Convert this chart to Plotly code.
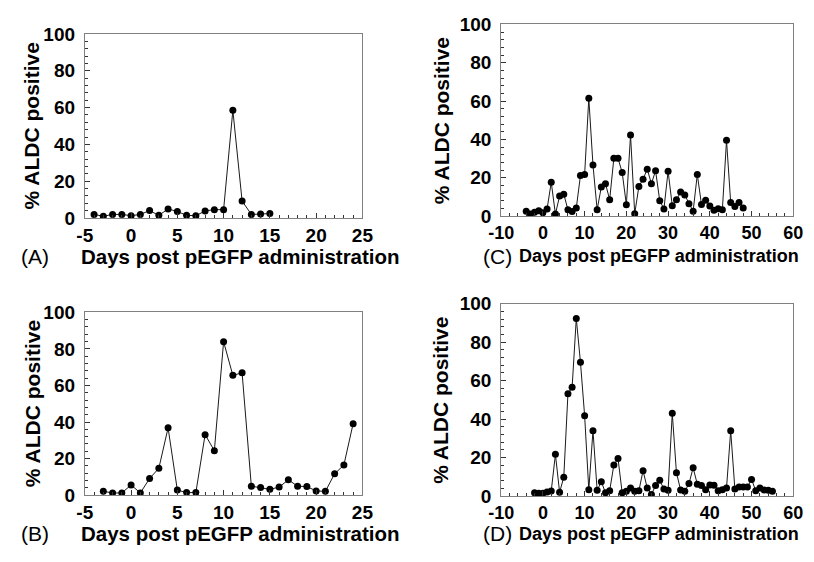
import plotly.graph_objects as go

# ---------------- data ----------------
days_a = list(range(-4, 16))
pct_a = [1.9, 0.9, 1.9, 1.9, 1.2, 1.9, 4.0, 1.4, 4.9, 3.5, 1.4, 1.2, 3.8, 4.5, 4.5,
         58.5, 9.2, 1.9, 2.1, 2.4]

days_b = list(range(-3, 25))
pct_b = [2.1, 1.2, 1.2, 5.6, 1.2, 9.1, 14.7, 36.8, 2.8, 1.4, 1.4, 33.1, 24.3, 83.9,
         65.5, 66.9, 4.9, 4.2, 3.2, 4.4, 8.4, 4.9, 4.7, 2.3, 2.1, 11.7, 16.5, 39.1]

days_c = list(range(-4, 49))
pct_c = [2.5, 1.0, 2.0, 2.7, 1.7, 3.7, 17.6, 1.0, 10.4, 11.4, 3.3, 2.3, 4.2, 21.1,
         21.7, 61.5, 26.6, 3.3, 15.2, 16.9, 8.5, 30.1, 30.1, 22.7, 5.9, 42.3, 1.2,
         15.4, 19.2, 24.4, 16.9, 23.6, 8.0, 3.7, 23.4, 5.4, 8.5, 12.5, 10.9, 6.4,
         2.5, 21.7, 6.0, 8.2, 5.2, 3.0, 3.8, 3.2, 39.5, 7.0, 5.0, 7.0, 4.2]

days_d = list(range(-2, 56))
pct_d = [1.7, 1.5, 1.5, 2.2, 2.7, 21.7, 2.0, 9.8, 53.2, 56.5, 92.3, 69.5, 41.8, 3.3,
         34.0, 3.0, 7.5, 1.7, 2.8, 16.2, 19.5, 1.7, 2.5, 4.2, 2.5, 2.8, 13.2, 4.2,
         0.8, 5.5, 8.2, 3.7, 3.0, 43.0, 12.2, 3.2, 2.5, 6.5, 14.7, 6.2, 5.5, 3.3,
         5.8, 5.7, 2.8, 3.3, 4.2, 34.0, 3.7, 4.7, 4.7, 4.7, 8.7, 2.8, 4.2, 3.2,
         3.0, 2.5]

# tick labels (hyphen-minus as in the original)
xticks_short = [-5, 0, 5, 10, 15, 20, 25]
xticklabels_short = ["-5", "0", "5", "10", "15", "20", "25"]
xticks_long = [-10, 0, 10, 20, 30, 40, 50, 60]
xticklabels_long = ["-10", "0", "10", "20", "30", "40", "50", "60"]
yticks = [0, 20, 40, 60, 80, 100]
yticklabels = ["0", "20", "40", "60", "80", "100"]

panel_labels = ["(A)", "(B)", "(C)", "(D)"]
x_title = "Days post pEGFP administration"
y_title = "% ALDC positive"

# ---------------- layout geometry (pixels) ----------------
W, H = 814, 562
frames = {
    "A": (74, 360, 25, 216),
    "B": (74, 360, 314, 504),
    "C": (503, 804, 15, 214),
    "D": (503, 804, 305, 505),
}
xranges = {"A": [-5, 25], "B": [-5, 25], "C": [-10, 60], "D": [-10, 60]}
xminor = {"A": 1, "B": 1, "C": 2, "D": 2}
xtickset = {"A": (xticks_short, xticklabels_short), "B": (xticks_short, xticklabels_short),
            "C": (xticks_long, xticklabels_long), "D": (xticks_long, xticklabels_long)}

def px(x):
    return x / W

def py(y):
    return 1 - y / H

FONT = "Liberation Sans, Arial, Helvetica, sans-serif"

fig = go.Figure()
series = {"A": (days_a, pct_a), "B": (days_b, pct_b),
          "C": (days_c, pct_c), "D": (days_d, pct_d)}

layout = dict(
    width=W, height=H,
    margin=dict(l=0, r=0, t=0, b=0),
    paper_bgcolor="white", plot_bgcolor="white",
    showlegend=False,
    font=dict(family=FONT, color="black"),
)

annotations = []
for i, key in enumerate(["A", "B", "C", "D"]):
    n = "" if i == 0 else str(i + 1)
    xa, ya = "xaxis" + n, "yaxis" + n
    l, r, t, b = frames[key]
    xs, ys = series[key]
    tv, tt = xtickset[key]
    left_col = key in ("A", "B")
    fig.add_trace(go.Scatter(
        x=xs, y=ys, mode="lines+markers",
        line=dict(color="#1a1a1a", width=1),
        marker=dict(color="black", size=7),
        xaxis="x" + n, yaxis="y" + n,
    ))
    layout[xa] = dict(
        domain=[px(l), px(r)], anchor="y" + n, range=xranges[key],
        showgrid=False, zeroline=False, showline=True, mirror=True,
        linecolor="#808080", linewidth=1,
        ticks="inside", ticklen=5, tickcolor="#333",
        tickmode="array", tickvals=tv, ticktext=tt,
        ticklabelstandoff=0,
        minor=dict(ticks="inside", ticklen=3, dtick=xminor[key], tick0=0, tickcolor="#333"),
        tickfont=dict(family=FONT, size=19 if left_col else 18, weight="bold", color="black"),
    )
    layout[ya] = dict(
        domain=[py(b), py(t)], anchor="x" + n, range=[0, 100],
        showgrid=False, zeroline=False, showline=True, mirror=True,
        linecolor="#808080", linewidth=1,
        ticks="inside", ticklen=5, tickcolor="#333",
        tickmode="array", tickvals=yticks, ticktext=yticklabels,
        ticklabelstandoff=5,
        minor=dict(ticks="inside", ticklen=3, dtick=4, tick0=0, tickcolor="#333"),
        tickfont=dict(family=FONT, size=19, weight="bold", color="black"),
    )
    # y title
    yt_x = 20 if left_col else 441
    annotations.append(dict(
        x=px(yt_x), y=py((t + b) / 2), xref="paper", yref="paper",
        text=y_title, textangle=-90, showarrow=False,
        xanchor="center", yanchor="middle",
        font=dict(family=FONT, size=21, weight="bold", color="black"),
    ))
    # x title row
    row_y = 256 if key in ("A", "C") else 544
    lab_x = 6 if left_col else 482
    annotations.append(dict(
        x=px(lab_x), y=py(row_y), xref="paper", yref="paper",
        text=panel_labels[i], showarrow=False,
        xanchor="left", yanchor="middle",
        font=dict(family=FONT, size=21, color="black"),
    ))
    if left_col:
        annotations.append(dict(
            x=px(68), y=py(row_y), xref="paper", yref="paper",
            text=x_title, showarrow=False,
            xanchor="left", yanchor="middle",
            font=dict(family=FONT, size=20.5, weight="bold", color="black"),
        ))
    else:
        annotations.append(dict(
            x=px(812), y=py(row_y), xref="paper", yref="paper",
            text=x_title, showarrow=False,
            xanchor="right", yanchor="middle",
            font=dict(family=FONT, size=18, weight="bold", color="black"),
        ))

layout["annotations"] = annotations
fig.update_layout(**layout)
fig.write_html("out.html")
